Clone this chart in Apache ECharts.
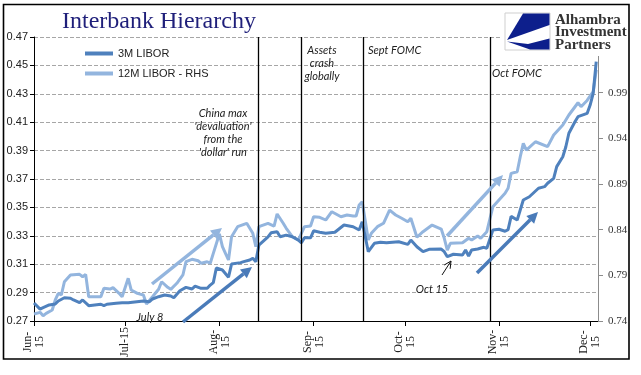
<!DOCTYPE html>
<html>
<head>
<meta charset="utf-8">
<title>Interbank Hierarchy</title>
<script src="https://cdn.jsdelivr.net/npm/echarts@6/dist/echarts.min.js"></script>
<style>
html, body { margin: 0; padding: 0; background: #fff; }
#chart { width: 641px; height: 375px; }
</style>
</head>
<body>
<div id="chart"></div>
<script>
// 3M LIBOR, left axis
const dates3M = ['2015-06-01','2015-06-03','2015-06-04','2015-06-06','2015-06-08','2015-06-09','2015-06-11','2015-06-13','2015-06-14','2015-06-16',
  '2015-06-17','2015-06-19','2015-06-21','2015-06-23','2015-06-24','2015-06-25','2015-06-28','2015-06-30','2015-07-02','2015-07-07',
  '2015-07-09','2015-07-10','2015-07-12','2015-07-14','2015-07-16','2015-07-17','2015-07-19','2015-07-21','2015-07-23','2015-07-24',
  '2015-07-26','2015-07-28','2015-07-29','2015-07-30','2015-07-31','2015-08-02','2015-08-04','2015-08-05','2015-08-08','2015-08-09',
  '2015-08-11','2015-08-12','2015-08-13','2015-08-14','2015-08-17','2015-08-18','2015-08-20','2015-08-21','2015-08-23','2015-08-25',
  '2015-08-27','2015-08-28','2015-08-29','2015-08-31','2015-09-01','2015-09-03','2015-09-05','2015-09-08','2015-09-11','2015-09-14',
  '2015-09-16','2015-09-17','2015-09-19','2015-09-21','2015-09-23','2015-09-25','2015-09-29','2015-10-02','2015-10-03','2015-10-05',
  '2015-10-07','2015-10-09','2015-10-13','2015-10-14','2015-10-15','2015-10-17','2015-10-20','2015-10-21','2015-10-22','2015-10-23',
  '2015-10-25','2015-10-27','2015-10-28','2015-10-30','2015-11-01','2015-11-03','2015-11-04','2015-11-05','2015-11-07','2015-11-08',
  '2015-11-09','2015-11-11','2015-11-14','2015-11-16','2015-11-17','2015-11-19','2015-11-20','2015-11-22','2015-11-23','2015-11-24',
  '2015-11-26','2015-11-27','2015-11-30','2015-12-01','2015-12-02','2015-12-03'];
const libor3M = [0.2827,0.2784,0.2794,0.2813,0.2820,0.2841,0.2864,0.2860,0.2848,0.2829,
  0.2848,0.2808,0.2813,0.2818,0.2808,0.2818,0.2825,0.2829,0.2829,0.2841,
  0.2836,0.2855,0.2871,0.2883,0.2876,0.2864,0.2913,0.2937,0.2925,0.2946,
  0.2930,0.2930,0.2953,0.2970,0.3073,0.3059,0.3008,0.3101,0.3111,0.3118,
  0.3130,0.3142,0.3118,0.3235,0.3293,0.3321,0.3328,0.3293,0.3305,0.3293,
  0.3270,0.3251,0.3286,0.3286,0.3335,0.3325,0.3318,0.3325,0.3376,0.3364,
  0.3341,0.3399,0.3188,0.3247,0.3254,0.3251,0.3258,0.3240,0.3270,0.3223,
  0.3188,0.3205,0.3207,0.3188,0.3153,0.3170,0.3165,0.3200,0.3158,0.3200,
  0.3207,0.3219,0.3212,0.3341,0.3346,0.3332,0.3343,0.3437,0.3411,0.3482,
  0.3552,0.3575,0.3635,0.3646,0.3670,0.3705,0.3787,0.3857,0.3927,0.4022,
  0.4103,0.4139,0.4162,0.4221,0.4303,0.4526];

// 12M LIBOR, right axis
const dates12M = ['2015-06-01','2015-06-03','2015-06-04','2015-06-05','2015-06-07','2015-06-08','2015-06-09','2015-06-10','2015-06-11','2015-06-13',
  '2015-06-16','2015-06-17','2015-06-18','2015-06-19','2015-06-23','2015-06-24','2015-06-26','2015-06-27','2015-06-29','2015-06-30',
  '2015-07-02','2015-07-03','2015-07-05','2015-07-07','2015-07-08','2015-07-10','2015-07-12','2015-07-13','2015-07-15','2015-07-16',
  '2015-07-18','2015-07-20','2015-07-21','2015-07-23','2015-07-25','2015-07-26','2015-07-28','2015-07-29','2015-07-30','2015-08-01',
  '2015-08-02','2015-08-03','2015-08-04','2015-08-05','2015-08-07','2015-08-10','2015-08-12','2015-08-13','2015-08-14','2015-08-17',
  '2015-08-19','2015-08-20','2015-08-22','2015-08-23','2015-08-25','2015-08-27','2015-08-29','2015-08-31','2015-09-01','2015-09-03',
  '2015-09-05','2015-09-07','2015-09-10','2015-09-12','2015-09-14','2015-09-15','2015-09-16','2015-09-17','2015-09-19','2015-09-20',
  '2015-09-22','2015-09-24','2015-09-26','2015-09-28','2015-09-30','2015-10-02','2015-10-03','2015-10-05','2015-10-07','2015-10-10',
  '2015-10-13','2015-10-14','2015-10-15','2015-10-16','2015-10-20','2015-10-22','2015-10-23','2015-10-25','2015-10-26','2015-10-28',
  '2015-10-30','2015-11-01','2015-11-03','2015-11-04','2015-11-05','2015-11-07','2015-11-08','2015-11-09','2015-11-10','2015-11-13',
  '2015-11-17','2015-11-19','2015-11-22','2015-11-24','2015-11-27','2015-11-28','2015-11-30','2015-12-02','2015-12-03'];
const libor12M = [0.7477,0.7495,0.7458,0.7484,0.7520,0.7630,0.7703,0.7685,0.7830,0.7904,
  0.7911,0.7885,0.7911,0.7666,0.7666,0.7758,0.7750,0.7765,0.7703,0.7666,
  0.7868,0.7739,0.7703,0.7685,0.7586,0.7666,0.7747,0.7830,0.7769,0.7747,
  0.7813,0.7904,0.8049,0.8076,0.8060,0.8032,0.8049,0.8032,0.8141,0.8353,
  0.8214,0.8141,0.8068,0.8323,0.8433,0.8470,0.8360,0.8214,0.8433,0.8470,
  0.8440,0.8572,0.8470,0.8415,0.8323,0.8287,0.8433,0.8440,0.8542,0.8536,
  0.8506,0.8597,0.8542,0.8561,0.8550,0.8550,0.8670,0.8706,0.8287,0.8360,
  0.8433,0.8470,0.8615,0.8561,0.8525,0.8487,0.8525,0.8317,0.8378,0.8451,
  0.8407,0.8306,0.8177,0.8251,0.8257,0.8306,0.8287,0.8331,0.8306,0.8378,
  0.8652,0.8725,0.8798,0.8853,0.9017,0.9035,0.9199,0.9346,0.9272,0.9363,
  0.9309,0.9437,0.9546,0.9656,0.9790,0.9747,0.9815,0.9911,1.0150];

// x tick labels by month (June = 5)
const monthLabels = { 5: 'Jun-\n15', 6: 'Jul-15', 7: 'Aug-\n15', 8: 'Sep-\n15', 9: 'Oct-\n15', 10: 'Nov-\n15', 11: 'Dec-\n15' };
// vertical event lines: China devaluation, assets crash, Sept FOMC, Oct FOMC
const eventDates = ['2015-08-13 16:00', '2015-08-28 02:00', '2015-09-17 11:00', '2015-10-29 04:00'];

const dark = '#4f81bd', light = '#93b5de';
const noteFont = 'italic 11px Lato';

function arrow(x1, y1, x2, y2, color, w, head, open) {
    const a = Math.atan2(y2 - y1, x2 - x1);
    const hw = head * 0.5;
    const bx = x2 - head * Math.cos(a), by = y2 - head * Math.sin(a);
    const p1 = [bx + hw * Math.sin(a), by - hw * Math.cos(a)];
    const p2 = [bx - hw * Math.sin(a), by + hw * Math.cos(a)];
    if (open) {
        return [
            { type: 'line', z: 6, shape: { x1, y1, x2, y2 }, style: { stroke: color, lineWidth: w } },
            { type: 'polyline', z: 6, shape: { points: [p1, [x2, y2], p2] }, style: { stroke: color, lineWidth: w, fill: null } }
        ];
    }
    return [
        { type: 'line', z: 6, shape: { x1, y1, x2: bx, y2: by }, style: { stroke: color, lineWidth: w } },
        { type: 'polygon', z: 6, shape: { points: [[x2, y2], p1, p2] }, style: { fill: color } }
    ];
}

function note(text, x, y, align) {
    return { type: 'text', z: 6, style: { text, x, y, font: noteFont, fill: '#222', align: align || 'center', verticalAlign: 'middle' } };
}

const chart = echarts.init(document.getElementById('chart'));
chart.setOption({
    animation: false,
    backgroundColor: '#fff',
    grid: { left: 34, right: 43, top: 37, bottom: 54, containLabel: false, outerBoundsMode: 'none' },
    legend: {
        orient: 'vertical', left: 80, top: 43, icon: 'rect', itemWidth: 28, itemHeight: 4, itemGap: 9,
        data: ['3M LIBOR', '12M LIBOR - RHS'],
        textStyle: { fontFamily: 'Liberation Sans', fontSize: 11, color: '#222' }
    },
    xAxis: {
        type: 'time', min: '2015-06-01', max: '2015-12-03 14:00', splitNumber: 7,
        minInterval: 28 * 86400000,
        axisLine: { lineStyle: { color: '#000', width: 1 } },
        axisTick: { length: 5, lineStyle: { color: '#000' } },
        splitLine: { show: false },
        axisLabel: {
            rotate: 90, align: 'center', verticalAlign: 'middle', margin: 21, hideOverlap: false,
            fontFamily: 'Liberation Serif', fontSize: 12, lineHeight: 12, color: '#222',
            showMaxLabel: false,
            formatter: function (v) {
                const d = new Date(v);
                if (d.getDate() !== 1 || d.getHours() !== 0) return '';
                return monthLabels[d.getMonth()] || '';
            }
        }
    },
    yAxis: [
        {
            type: 'value', min: 0.27, max: 0.47, interval: 0.02,
            axisLine: { show: true, lineStyle: { color: '#000' } },
            axisTick: { show: true, length: 4, lineStyle: { color: '#000' } },
            splitLine: { show: true, lineStyle: { color: '#a6a6a6', type: 'dashed', width: 1 } },
            axisLabel: { margin: 6, fontFamily: 'Liberation Sans', fontSize: 11, color: '#222', formatter: v => v.toFixed(2) }
        },
        {
            type: 'value', min: 0.74, max: 1.051, interval: 0.05, position: 'right',
            axisLine: { show: true, lineStyle: { color: '#8c8c8c' } },
            axisTick: { show: true, length: 5, lineStyle: { color: '#8c8c8c' } },
            splitLine: { show: false },
            axisLabel: { margin: 10, fontFamily: 'Liberation Serif', fontSize: 11, color: '#333',
                formatter: v => v > 1.0 ? '' : v.toFixed(2) }
        }
    ],
    series: [
        {
            name: '3M LIBOR', type: 'line', yAxisIndex: 0, z: 4,
            data: dates3M.map((d, i) => [d, libor3M[i]]),
            showSymbol: false, symbol: 'none',
            lineStyle: { width: 3, color: dark }, itemStyle: { color: dark },
            markLine: {
                silent: true, symbol: ['none', 'none'], label: { show: false },
                lineStyle: { color: '#000', width: 1.3, type: 'solid' },
                data: eventDates.map(d => ({ xAxis: d }))
            }
        },
        {
            name: '12M LIBOR - RHS', type: 'line', yAxisIndex: 1, z: 3,
            data: dates12M.map((d, i) => [d, libor12M[i]]),
            showSymbol: false, symbol: 'none',
            lineStyle: { width: 3, color: light }, itemStyle: { color: light }
        }
    ],
    graphic: [
        { type: 'text', z: 6, style: { text: 'Interbank Hierarchy', x: 62, y: 22, font: '24px "Liberation Serif"', fill: '#1f1f7a', verticalAlign: 'middle' } },
        note('China max', 223, 113), note("'devaluation'", 223, 126), note('from the', 223, 139), note("'dollar' run", 223, 152),
        note('Assets', 322, 50), note('crash', 322, 63), note('globally', 322, 76),
        note('Sept FOMC', 368, 50, 'left'),
        note('Oct FOMC', 492, 73, 'left'),
        note('July 8', 150, 317),
        note('Oct 15', 432, 289),
        ...arrow(152, 284, 222, 228, light, 3.5, 11, false),
        ...arrow(183, 322, 252, 267, '#4a7bb9', 3.5, 11, false),
        ...arrow(447, 236, 503, 175, light, 3.5, 11, false),
        ...arrow(477, 273, 538, 212, '#4a7bb9', 3.5, 11, false),
        ...arrow(442, 275, 451, 261, '#111', 1, 7, true),
        // logo area
        { type: 'rect', z: 20, shape: { x: 502, y: 5, width: 139, height: 51 }, style: { fill: '#fff' } },
        { type: 'rect', z: 21, shape: { x: 505, y: 13, width: 45, height: 37 }, style: { fill: '#fff', stroke: '#cfcfcf', lineWidth: 1 } },
        { type: 'polygon', z: 22, shape: { points: [[523, 13.5], [549.5, 13.5], [549.5, 25], [507, 40]] }, style: { fill: '#0d1f8c' } },
        { type: 'polygon', z: 22, shape: { points: [[507, 41.5], [528, 44], [549.5, 38.5], [549.5, 49.5], [530, 49.5]] }, style: { fill: '#0d1f8c' } },
        { type: 'text', z: 22, style: { text: 'Alhambra', x: 555, y: 20, font: 'bold 15px "Liberation Serif"', fill: '#333', verticalAlign: 'middle' } },
        { type: 'text', z: 22, style: { text: 'Investment', x: 555, y: 32.5, font: 'bold 15px "Liberation Serif"', fill: '#333', verticalAlign: 'middle' } },
        { type: 'text', z: 22, style: { text: 'Partners', x: 555, y: 45, font: 'bold 15px "Liberation Serif"', fill: '#333', verticalAlign: 'middle' } },
        // outer frame
        { type: 'rect', z: 30, shape: { x: 3.5, y: 4.5, width: 625.5, height: 354.5 }, style: { fill: null, stroke: '#000', lineWidth: 1.6 } }
    ]
});
</script>
</body>
</html>
